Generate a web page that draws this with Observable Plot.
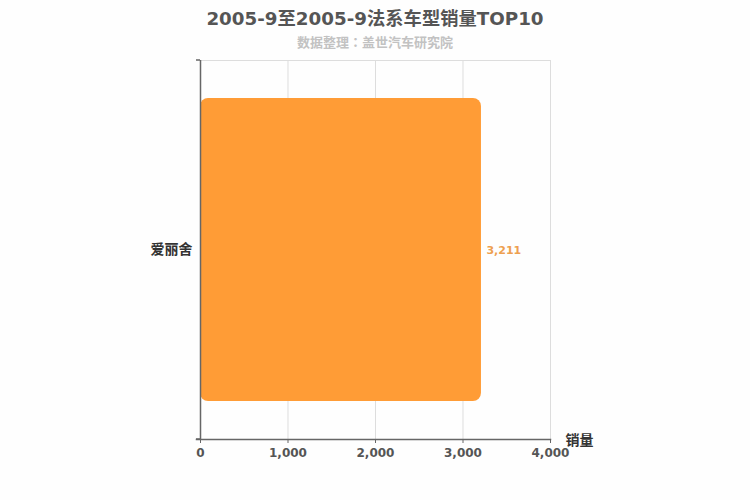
<!DOCTYPE html>
<html><head><meta charset="utf-8">
<script src="https://cdn.jsdelivr.net/npm/d3@7"></script>
<script src="https://cdn.jsdelivr.net/npm/@observablehq/plot@0.6"></script>
<style>
body{margin:0;background:#fefefe;font-family:"DejaVu Sans","Noto Sans CJK SC",sans-serif;}
#wrap{position:relative;width:750px;height:500px;}
#title{position:absolute;top:4px;left:0;width:750px;text-align:center;font-size:18.3px;font-weight:bold;color:#555;}
#sub{position:absolute;top:32px;left:0;width:750px;text-align:center;font-size:13px;font-weight:bold;color:#c2c2c2;font-family:"Noto Sans CJK TC",sans-serif;}
</style></head>
<body><div id="wrap"><div id="title">2005-9至2005-9法系车型销量TOP10</div><div id="sub">数据整理：盖世汽车研究院</div><div id="chart"></div></div>
<script>
const models = ["爱丽舍"];
const sales = [3211];
const xTicks = [0, 1000, 2000, 3000, 4000];
const xLabel = "销量";

const data = models.map((m, i) => ({model: m, value: sales[i]}));
const fmt = d3.format(",");
const mT = 60, mB = 61, mL = 200, mR = 200;
const chart = Plot.plot({
  width: 750, height: 500,
  marginTop: mT, marginBottom: mB, marginLeft: mL, marginRight: mR,
  style: {background: "transparent", fontFamily: '"DejaVu Sans","Noto Sans CJK SC",sans-serif'},
  x: {domain: [0, 4000], ticks: xTicks, tickFormat: fmt, label: null},
  y: {domain: models, paddingInner: 0.2, paddingOuter: 0.1, label: null},
  marks: [
    Plot.frame({stroke: "#ddd"}),
    Plot.gridX(xTicks, {stroke: "#ddd", strokeOpacity: 1}),
    Plot.barX(data, {x: "value", y: "model", fill: "#ff9c36", rx: 8}),
    Plot.ruleX([0], {stroke: "#666", strokeWidth: 1.5}),
    Plot.frame({anchor: "bottom", stroke: "#666", strokeWidth: 1.5, insetLeft: -4}),
    Plot.axisX(xTicks, {tickFormat: fmt, tickSize: 4, stroke: "#666", fill: "#555", fontSize: 12, fontWeight: "bold", tickPadding: 5, label: null}),
    Plot.axisY({tickSize: 0, tickPadding: 8, fill: "#333", fontSize: 14, fontWeight: "bold", label: null}),
    Plot.text(data, {x: "value", y: "model", text: d => fmt(d.value), textAnchor: "start", dx: 5, fill: "#eea050", fontSize: 11, fontWeight: "bold"}),
    Plot.text([xLabel], {frameAnchor: "bottom-right", text: d => d, textAnchor: "start", dx: 15, dy: 5, fill: "#333", fontSize: 14, fontWeight: "bold"})
  ]
});
document.getElementById("chart").appendChild(chart);
// small category-boundary ticks on left axis
const svg = d3.select(chart);
[mT, 500 - mB].forEach(y => {
  svg.append("line").attr("x1", mL - 4).attr("x2", mL).attr("y1", y).attr("y2", y).attr("stroke", "#666").attr("stroke-width", 1.5);
});
</script></body></html>
